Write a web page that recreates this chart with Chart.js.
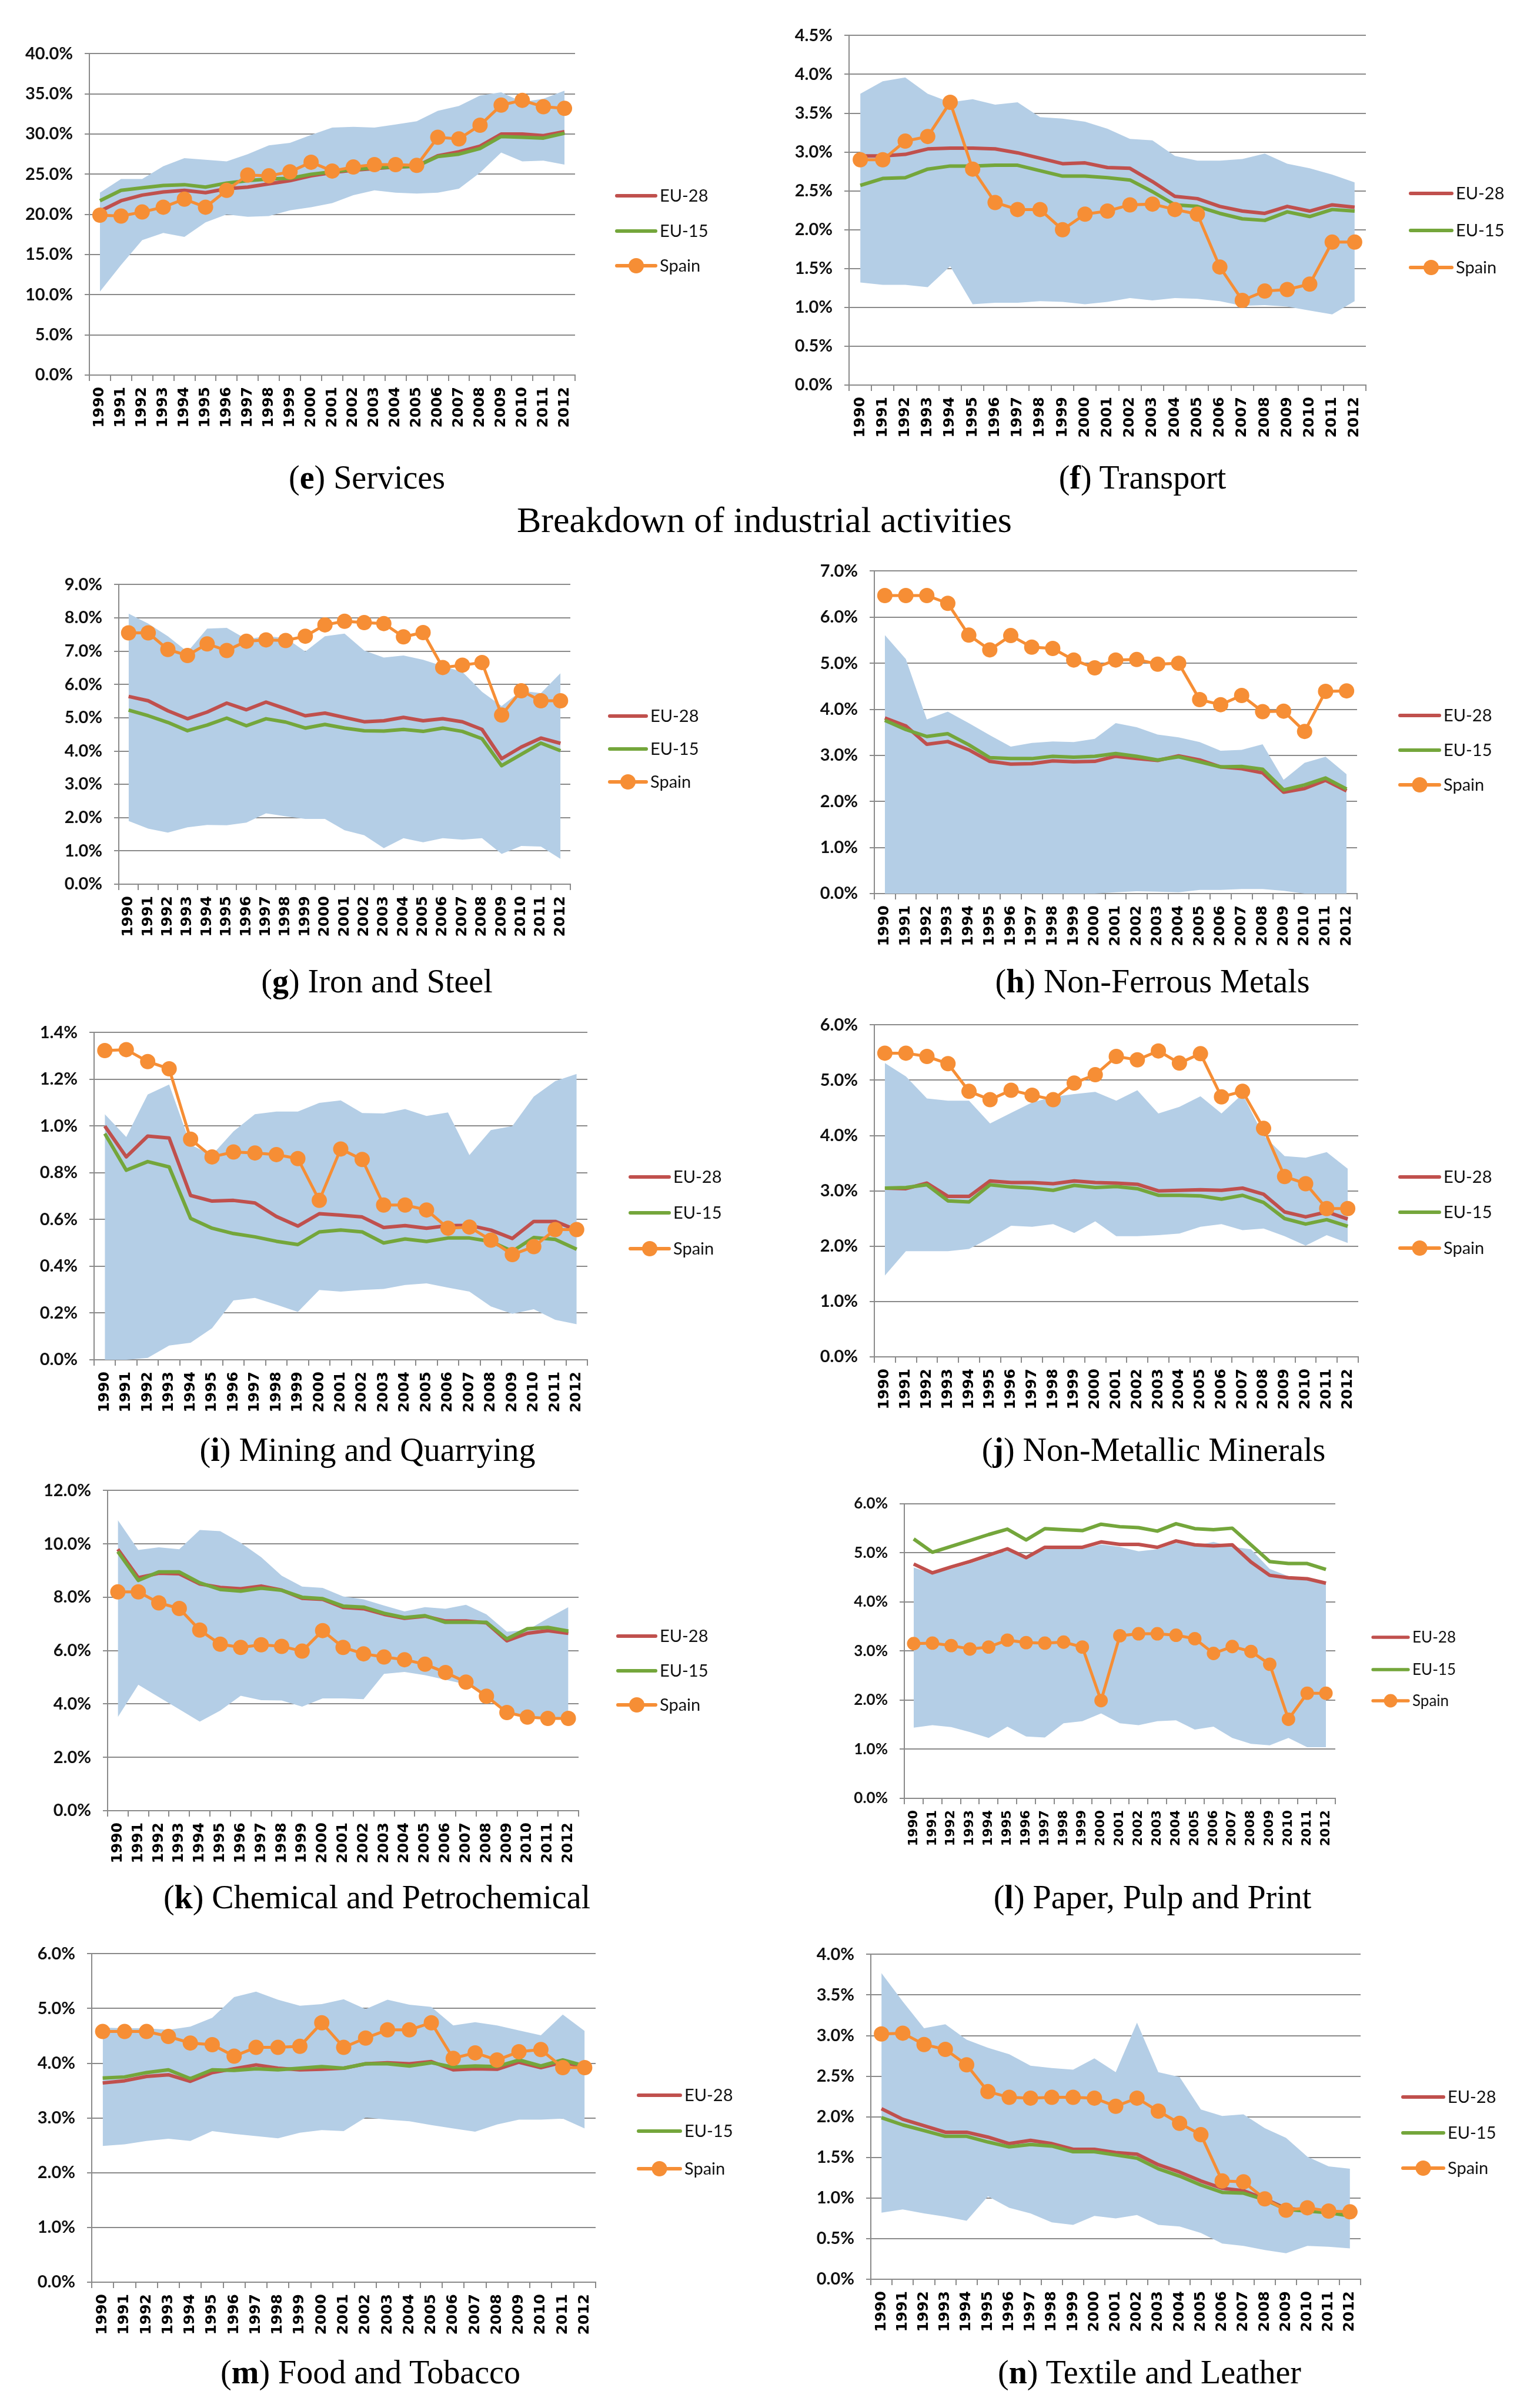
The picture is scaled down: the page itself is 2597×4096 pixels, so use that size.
<!DOCTYPE html>
<html><head><meta charset="utf-8">
<script src="https://cdn.jsdelivr.net/npm/chart.js@4.4.1/dist/chart.umd.min.js"></script>
<style>
html,body{margin:0;padding:0;background:#fff;}
body{width:2597px;height:4096px;position:relative;overflow:hidden;}
canvas.panel{position:absolute;}
.cap{position:absolute;transform:translate(-50%,-50%);font-family:'Liberation Serif','DejaVu Serif',serif;font-size:56px;white-space:nowrap;color:#000;line-height:1;}
.ttl{font-size:62px;}
</style></head><body>
<script>
const years = ['1990','1991','1992','1993','1994','1995','1996','1997','1998','1999','2000','2001','2002','2003','2004','2005','2006','2007','2008','2009','2010','2011','2012'];
const seriesNames = ['EU-28','EU-15','Spain'];

const servicesSpain = [19.9,19.8,20.3,20.9,21.9,20.9,23.0,24.9,24.8,25.3,26.5,25.4,25.9,26.2,26.2,26.1,29.6,29.4,31.1,33.6,34.2,33.4,33.2];
const servicesEU28 = [20.4,21.7,22.4,22.8,23.0,22.7,23.2,23.4,23.8,24.2,24.8,25.2,25.5,25.7,25.9,26.0,27.3,27.8,28.5,30.0,30.0,29.8,30.3];
const servicesEU15 = [21.7,23.0,23.3,23.6,23.7,23.4,23.9,24.2,24.4,24.5,25.0,25.3,25.6,25.8,25.9,26.0,27.2,27.5,28.2,29.7,29.6,29.5,30.1];
const servicesMax = [22.7,24.4,24.4,26.0,27.0,26.8,26.6,27.5,28.6,28.9,29.9,30.8,30.9,30.8,31.2,31.6,32.9,33.5,34.8,35.2,34.0,34.4,35.4];
const servicesMin = [10.4,13.7,16.8,17.7,17.2,19.0,20.0,19.7,19.8,20.5,20.9,21.4,22.4,23.0,22.7,22.6,22.7,23.2,25.2,27.7,26.6,26.7,26.2];

const transportSpain = [2.90,2.90,3.14,3.20,3.64,2.78,2.35,2.26,2.26,2.00,2.20,2.24,2.32,2.33,2.26,2.20,1.52,1.09,1.21,1.23,1.30,1.84,1.84];
const transportEU28 = [2.95,2.95,2.97,3.04,3.05,3.05,3.04,2.99,2.92,2.85,2.86,2.80,2.79,2.62,2.43,2.40,2.30,2.24,2.21,2.30,2.24,2.32,2.29];
const transportEU15 = [2.57,2.66,2.67,2.78,2.82,2.82,2.83,2.83,2.76,2.69,2.69,2.67,2.64,2.49,2.32,2.30,2.21,2.14,2.12,2.23,2.17,2.26,2.24];
const transportMax = [3.75,3.91,3.96,3.75,3.64,3.68,3.61,3.64,3.45,3.43,3.39,3.30,3.17,3.15,2.95,2.89,2.89,2.91,2.98,2.85,2.79,2.71,2.61];
const transportMin = [1.32,1.29,1.29,1.26,1.53,1.04,1.06,1.06,1.08,1.07,1.04,1.07,1.12,1.09,1.12,1.11,1.08,1.02,1.03,1.01,0.96,0.91,1.08];

const ironSpain = [7.55,7.55,7.05,6.87,7.22,7.02,7.30,7.34,7.32,7.45,7.79,7.90,7.86,7.83,7.43,7.56,6.51,6.58,6.66,5.08,5.81,5.51,5.51];
const ironEU28 = [5.64,5.51,5.21,4.97,5.17,5.44,5.24,5.47,5.27,5.06,5.14,5.01,4.88,4.91,5.01,4.91,4.97,4.88,4.65,3.77,4.12,4.39,4.23];
const ironEU15 = [5.23,5.06,4.86,4.61,4.78,4.99,4.76,4.97,4.87,4.69,4.80,4.69,4.61,4.60,4.65,4.59,4.69,4.59,4.37,3.56,3.90,4.24,4.01];
const ironMax = [8.13,7.83,7.45,6.98,7.68,7.70,7.36,7.45,7.40,6.99,7.45,7.53,7.02,6.81,6.87,6.74,6.55,6.38,5.78,5.35,5.81,5.74,6.34];
const ironMin = [1.90,1.67,1.55,1.71,1.78,1.77,1.85,2.13,2.04,1.96,1.96,1.62,1.47,1.08,1.38,1.26,1.38,1.34,1.38,0.91,1.15,1.13,0.76];

const nonFerrousSpain = [6.47,6.47,6.47,6.30,5.61,5.29,5.60,5.35,5.32,5.07,4.90,5.07,5.08,4.98,5.00,4.21,4.10,4.30,3.95,3.96,3.52,4.39,4.40];
const nonFerrousEU28 = [3.81,3.64,3.24,3.30,3.12,2.87,2.81,2.82,2.88,2.86,2.87,2.98,2.93,2.89,2.99,2.90,2.75,2.71,2.62,2.20,2.28,2.46,2.23];
const nonFerrousEU15 = [3.76,3.56,3.41,3.47,3.23,2.95,2.93,2.93,2.98,2.96,2.98,3.04,2.98,2.90,2.97,2.86,2.75,2.76,2.70,2.25,2.36,2.51,2.27];
const nonFerrousMax = [5.61,5.09,3.78,3.95,3.70,3.44,3.19,3.27,3.30,3.29,3.36,3.70,3.61,3.45,3.39,3.29,3.10,3.12,3.24,2.47,2.84,2.97,2.59];
const nonFerrousMin = [0,0,0,0,0,0,0,0,0,0,0,0.03,0.05,0.04,0.03,0.08,0.08,0.10,0.10,0.06,0,0,0];

const miningSpain = [1.323,1.327,1.276,1.245,0.944,0.868,0.889,0.885,0.878,0.861,0.682,0.902,0.857,0.662,0.662,0.641,0.563,0.568,0.512,0.450,0.484,0.557,0.557];
const miningEU28 = [1.000,0.868,0.957,0.949,0.703,0.679,0.682,0.671,0.613,0.572,0.625,0.619,0.611,0.566,0.574,0.563,0.574,0.575,0.555,0.519,0.592,0.592,0.555];
const miningEU15 = [0.968,0.811,0.848,0.825,0.605,0.563,0.540,0.526,0.507,0.493,0.547,0.555,0.547,0.500,0.517,0.506,0.521,0.521,0.506,0.464,0.523,0.515,0.473];
const miningMax = [1.051,0.953,1.135,1.178,0.920,0.876,0.977,1.051,1.062,1.062,1.099,1.110,1.056,1.054,1.073,1.043,1.058,0.876,0.983,1.000,1.126,1.192,1.223];
const miningMin = [0,0,0.008,0.061,0.073,0.135,0.254,0.265,0.236,0.205,0.299,0.292,0.299,0.303,0.320,0.327,0.309,0.292,0.228,0.197,0.216,0.171,0.152];

const nonMetallicSpain = [5.49,5.49,5.43,5.30,4.80,4.65,4.82,4.73,4.65,4.95,5.10,5.43,5.37,5.53,5.31,5.48,4.70,4.80,4.13,3.26,3.13,2.68,2.68];
const nonMetallicEU28 = [3.05,3.04,3.14,2.90,2.90,3.18,3.15,3.15,3.13,3.18,3.15,3.14,3.12,3.00,3.01,3.02,3.01,3.05,2.94,2.62,2.53,2.62,2.49];
const nonMetallicEU15 = [3.05,3.06,3.11,2.82,2.80,3.11,3.07,3.05,3.01,3.10,3.06,3.08,3.04,2.92,2.92,2.91,2.85,2.92,2.79,2.50,2.40,2.48,2.36];
const nonMetallicMax = [5.31,5.07,4.67,4.63,4.63,4.22,4.41,4.60,4.70,4.75,4.79,4.63,4.82,4.40,4.52,4.71,4.40,4.75,4.00,3.63,3.60,3.70,3.40];
const nonMetallicMin = [1.47,1.91,1.91,1.91,1.95,2.15,2.37,2.35,2.40,2.24,2.45,2.18,2.18,2.20,2.23,2.35,2.40,2.29,2.32,2.18,2.01,2.20,2.06];

const chemicalSpain = [8.20,8.20,7.79,7.58,6.77,6.24,6.12,6.22,6.16,5.98,6.75,6.12,5.88,5.76,5.66,5.49,5.18,4.82,4.29,3.68,3.51,3.46,3.46];
const chemicalEU28 = [9.80,8.73,8.90,8.88,8.50,8.37,8.32,8.42,8.27,7.96,7.92,7.62,7.57,7.36,7.21,7.29,7.11,7.11,7.04,6.37,6.65,6.75,6.65];
const chemicalEU15 = [9.71,8.63,8.95,8.95,8.54,8.29,8.23,8.34,8.26,8.00,7.95,7.67,7.63,7.40,7.24,7.31,7.06,7.06,7.06,6.44,6.82,6.87,6.73];
const chemicalMax = [10.89,9.77,9.87,9.80,10.52,10.48,10.04,9.50,8.81,8.40,8.35,8.03,7.92,7.69,7.47,7.63,7.57,7.72,7.36,6.71,6.77,7.21,7.63];
const chemicalMin = [3.51,4.72,4.26,3.80,3.34,3.75,4.31,4.14,4.13,3.90,4.21,4.21,4.18,5.13,5.20,5.08,4.91,4.74,4.31,3.68,3.51,3.46,3.46];

const paperSpain = [3.15,3.16,3.11,3.04,3.08,3.22,3.17,3.16,3.18,3.08,1.99,3.31,3.35,3.35,3.32,3.25,2.95,3.09,2.99,2.73,1.61,2.14,2.14];
const paperEU28 = [4.77,4.59,4.71,4.82,4.95,5.08,4.90,5.11,5.11,5.11,5.22,5.17,5.17,5.11,5.24,5.16,5.14,5.16,4.81,4.54,4.49,4.47,4.38];
const paperEU15 = [5.28,5.01,5.13,5.25,5.37,5.48,5.26,5.49,5.47,5.45,5.58,5.53,5.51,5.44,5.59,5.49,5.47,5.50,5.16,4.82,4.78,4.78,4.66];
const paperMax = [4.70,4.57,4.67,4.78,4.91,5.04,4.88,5.07,5.08,5.08,5.17,5.12,5.03,5.07,5.20,5.14,5.22,5.12,5.07,4.67,4.52,4.46,4.38];
const paperMin = [1.44,1.49,1.45,1.35,1.23,1.46,1.26,1.24,1.53,1.57,1.73,1.53,1.49,1.57,1.59,1.40,1.46,1.23,1.11,1.08,1.23,1.04,1.04];

const foodSpain = [4.58,4.58,4.58,4.49,4.37,4.34,4.13,4.29,4.29,4.31,4.74,4.29,4.46,4.61,4.61,4.74,4.09,4.19,4.06,4.21,4.25,3.92,3.92];
const foodEU28 = [3.64,3.68,3.76,3.79,3.67,3.83,3.90,3.97,3.91,3.88,3.89,3.91,3.99,4.01,3.99,4.03,3.88,3.90,3.89,4.02,3.92,4.02,3.93];
const foodEU15 = [3.73,3.75,3.83,3.88,3.72,3.88,3.87,3.90,3.88,3.91,3.94,3.91,3.99,3.99,3.95,4.01,3.93,3.95,3.94,4.06,3.95,4.06,3.95];
const foodMax = [4.65,4.64,4.64,4.61,4.67,4.83,5.21,5.31,5.16,5.05,5.08,5.17,4.99,5.16,5.07,5.03,4.69,4.75,4.69,4.60,4.51,4.89,4.59];
const foodMin = [2.49,2.52,2.58,2.62,2.58,2.76,2.71,2.67,2.63,2.73,2.78,2.76,3.01,2.97,2.94,2.87,2.81,2.75,2.88,2.97,2.97,2.99,2.81];

const textileSpain = [3.02,3.03,2.89,2.83,2.64,2.31,2.24,2.23,2.24,2.24,2.23,2.13,2.23,2.07,1.92,1.78,1.21,1.20,0.99,0.85,0.88,0.84,0.83];
const textileEU28 = [2.10,1.97,1.89,1.81,1.81,1.75,1.67,1.71,1.67,1.60,1.60,1.56,1.54,1.41,1.32,1.21,1.12,1.09,0.99,0.87,0.85,0.83,0.79];
const textileEU15 = [1.99,1.90,1.83,1.76,1.76,1.69,1.63,1.66,1.64,1.57,1.57,1.53,1.49,1.36,1.27,1.16,1.07,1.06,0.98,0.86,0.84,0.82,0.78];
const textileMax = [3.77,3.42,3.09,3.14,2.95,2.85,2.77,2.63,2.60,2.58,2.72,2.55,3.16,2.55,2.49,2.09,2.01,2.03,1.86,1.74,1.51,1.39,1.36];
const textileMin = [0.82,0.86,0.81,0.77,0.72,1.02,0.88,0.81,0.70,0.67,0.78,0.75,0.79,0.67,0.65,0.57,0.44,0.41,0.36,0.32,0.41,0.40,0.38];

const RED = '#C0504D', GREEN = '#74A63B', ORANGE = '#F68E35', BAND = '#B4CEE6', GRID = '#8A8A8A';

const panels = [
  {letter:'e', title:'Services', d:[servicesEU28,servicesEU15,servicesSpain,servicesMax,servicesMin], yMax:40, yStep:5,
   box:{L:152,R:978,T:84,B:638}, leg:{x0:1049,x1:1115,ys:[333,393,452]}, cap:{x:624,y:812}, fs:1},
  {letter:'f', title:'Transport', d:[transportEU28,transportEU15,transportSpain,transportMax,transportMin], yMax:4.5, yStep:0.5,
   box:{L:1444,R:2323,T:53,B:655}, leg:{x0:2399,x1:2469,ys:[329,392,455]}, cap:{x:1943,y:812}, fs:1},
  {letter:'g', title:'Iron and Steel', d:[ironEU28,ironEU15,ironSpain,ironMax,ironMin], yMax:9, yStep:1,
   box:{L:202,R:970,T:987,B:1504}, leg:{x0:1037,x1:1099,ys:[1218,1274,1330]}, cap:{x:641,y:1669}, fs:1},
  {letter:'h', title:'Non-Ferrous Metals', d:[nonFerrousEU28,nonFerrousEU15,nonFerrousSpain,nonFerrousMax,nonFerrousMin], yMax:7, yStep:1,
   box:{L:1487,R:2308,T:964,B:1520}, leg:{x0:2381,x1:2448,ys:[1217,1276,1335]}, cap:{x:1960,y:1669}, fs:1},
  {letter:'i', title:'Mining and Quarrying', d:[miningEU28,miningEU15,miningSpain,miningMax,miningMin], yMax:1.4, yStep:0.2,
   box:{L:160,R:999,T:1749,B:2313}, leg:{x0:1072,x1:1138,ys:[2002,2063,2124]}, cap:{x:625,y:2466}, fs:1},
  {letter:'j', title:'Non-Metallic Minerals', d:[nonMetallicEU28,nonMetallicEU15,nonMetallicSpain,nonMetallicMax,nonMetallicMin], yMax:6, yStep:1,
   box:{L:1487,R:2310,T:1736,B:2308}, leg:{x0:2381,x1:2448,ys:[2002,2062,2123]}, cap:{x:1962,y:2466}, fs:1},
  {letter:'k', title:'Chemical and Petrochemical', d:[chemicalEU28,chemicalEU15,chemicalSpain,chemicalMax,chemicalMin], yMax:12, yStep:2,
   box:{L:183,R:984,T:2528,B:3080}, leg:{x0:1051,x1:1115,ys:[2783,2842,2900]}, cap:{x:641,y:3227}, fs:1},
  {letter:'l', title:'Paper, Pulp and Print', d:[paperEU28,paperEU15,paperSpain,paperMax,paperMin], yMax:6, yStep:1,
   box:{L:1538,R:2271,T:2552,B:3059}, leg:{x0:2335,x1:2395,ys:[2785,2840,2893]}, cap:{x:1960,y:3227}, fs:0.88},
  {letter:'m', title:'Food and Tobacco', d:[foodEU28,foodEU15,foodSpain,foodMax,foodMin], yMax:6, yStep:1,
   box:{L:156,R:1013,T:3316,B:3882}, leg:{x0:1086,x1:1157,ys:[3564,3625,3689]}, cap:{x:630,y:4035}, fs:1},
  {letter:'n', title:'Textile and Leather', d:[textileEU28,textileEU15,textileSpain,textileMax,textileMin], yMax:4, yStep:0.5,
   box:{L:1481,R:2314,T:3317,B:3877}, leg:{x0:2386,x1:2455,ys:[3567,3628,3688]}, cap:{x:1955,y:4035}, fs:1}
];

const refLegend = {
  id: 'refLegend',
  afterDraw(chart, args, o) {
    const ctx = chart.ctx;
    ctx.save();
    o.items.forEach((it, i) => {
      const y = o.ys[i];
      ctx.strokeStyle = it.color; ctx.lineWidth = o.lw; ctx.lineCap = 'round';
      ctx.beginPath(); ctx.moveTo(o.x0, y); ctx.lineTo(o.x1, y); ctx.stroke();
      if (it.marker) {
        ctx.fillStyle = it.color; ctx.beginPath();
        ctx.arc((o.x0 + o.x1) / 2, y, o.r, 0, Math.PI * 2); ctx.fill();
      }
      ctx.fillStyle = '#111'; ctx.font = o.font; ctx.textBaseline = 'middle'; ctx.textAlign = 'left';
      ctx.fillText(it.label, o.x1 + 7, y + 1);
    });
    ctx.restore();
  }
};

function makePanel(p) {
  const padL = 110, padT = 30, padR = 270, padB = 110;
  const left = p.box.L - padL, top = p.box.T - padT;
  const w = p.box.R - left + padR, h = p.box.B - top + padB;
  const cv = document.createElement('canvas');
  cv.className = 'panel';
  cv.width = w; cv.height = h;
  cv.style.left = left + 'px'; cv.style.top = top + 'px';
  cv.style.width = w + 'px'; cv.style.height = h + 'px';
  document.body.appendChild(cv);

  const cap = document.createElement('div');
  cap.className = 'cap';
  cap.style.left = p.cap.x + 'px'; cap.style.top = p.cap.y + 'px';
  cap.innerHTML = '(<b>' + p.letter + '</b>) ' + p.title;
  document.body.appendChild(cap);

  const [eu28, eu15, spain, hi, lo] = p.d;
  new Chart(cv, {
    type: 'line',
    data: {
      labels: years,
      datasets: [
        {label: seriesNames[2], data: spain, borderColor: ORANGE, backgroundColor: ORANGE, borderWidth: 5,
         pointRadius: 13 * p.fs, pointHoverRadius: 13 * p.fs, pointBackgroundColor: ORANGE, pointBorderWidth: 0,
         fill: false, order: 0, clip: false, tension: 0},
        {label: seriesNames[1], data: eu15, borderColor: GREEN, borderWidth: 6, pointRadius: 0, fill: false, order: 1,
         borderJoinStyle: 'round', tension: 0},
        {label: seriesNames[0], data: eu28, borderColor: RED, borderWidth: 6, pointRadius: 0, fill: false, order: 2,
         borderJoinStyle: 'round', tension: 0},
        {label: 'max', data: hi, borderColor: 'rgba(0,0,0,0)', borderWidth: 0, backgroundColor: BAND, pointRadius: 0,
         fill: '+1', order: 3, tension: 0},
        {label: 'min', data: lo, borderColor: 'rgba(0,0,0,0)', borderWidth: 0, pointRadius: 0, fill: false, order: 4, tension: 0}
      ]
    },
    options: {
      responsive: false, animation: false, devicePixelRatio: 1,
      layout: {padding: {left: 0, top: padT, right: padR, bottom: 0}},
      plugins: {
        legend: {display: false}, tooltip: {enabled: false},
        refLegend: {
          items: [{label: seriesNames[0], color: RED}, {label: seriesNames[1], color: GREEN}, {label: seriesNames[2], color: ORANGE, marker: true}],
          x0: p.leg.x0 - left, x1: p.leg.x1 - left, ys: p.leg.ys.map(v => v - top),
          lw: 6 * p.fs, r: 13 * p.fs, font: Math.round(29 * p.fs) + 'px Lato, "Liberation Sans", sans-serif'
        }
      },
      scales: {
        x: {
          type: 'category', offset: true,
          grid: {display: true, drawOnChartArea: false, drawTicks: true, tickLength: 10, color: GRID, lineWidth: 2, offset: true},
          border: {display: true, color: GRID, width: 2},
          ticks: {autoSkip: false, minRotation: 90, maxRotation: 90, padding: 10, color: '#000',
                  font: {family: '"DejaVu Sans"', weight: 'bold', size: Math.round(24.5 * p.fs)}},
          afterFit(s) { s.height = padB; }
        },
        y: {
          min: 0, max: p.yMax,
          grid: {color: GRID, lineWidth: 2, tickLength: 8, drawTicks: true},
          border: {display: true, color: GRID, width: 2},
          ticks: {stepSize: p.yStep, padding: 20, color: '#111',
                  font: {family: 'Lato', weight: 'bold', size: Math.round(29 * p.fs)},
                  callback: v => Number(v).toFixed(1) + '%'},
          afterFit(s) { s.width = padL; }
        }
      }
    },
    plugins: [refLegend]
  });
}

const t = document.createElement('div');
t.className = 'cap ttl';
t.style.left = '1300px'; t.style.top = '884px';
t.textContent = 'Breakdown of industrial activities';
document.body.appendChild(t);

panels.forEach(makePanel);
</script>
</body></html>
